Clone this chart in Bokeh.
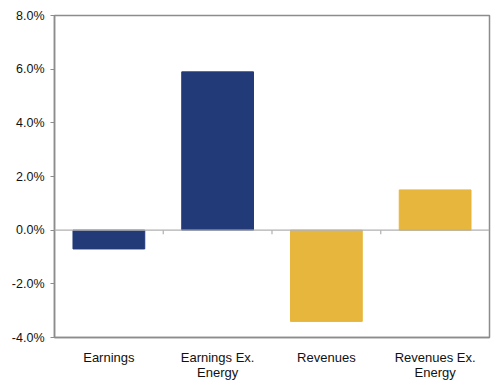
from bokeh.plotting import figure
from bokeh.models import Range1d, FixedTicker, NumeralTickFormatter, Span, ColumnDataSource
from bokeh.embed import file_html
from bokeh.resources import INLINE

categories = ["Earnings", "Earnings Ex.\nEnergy", "Revenues", "Revenues Ex.\nEnergy"]
values = [-0.007, 0.059, -0.034, 0.015]
colors = ["#233a78", "#233a78", "#e6b63d", "#e6b63d"]
y_ticks = [-0.04, -0.02, 0.0, 0.02, 0.04, 0.06, 0.08]

n = len(categories)
xs = [i + 0.5 for i in range(n)]
src = ColumnDataSource(dict(x=xs, top=values, color=colors))

p = figure(frame_width=435, frame_height=322, output_backend="svg", toolbar_location=None,
           x_range=Range1d(0, n), y_range=Range1d(-0.04, 0.08))
p.min_border_left = 54
p.min_border_top = 15
p.min_border_right = 3
p.min_border_bottom = 41
p.vbar(x="x", top="top", bottom=0, width=0.66, color="color", source=src)

# zero line with category separator ticks
p.add_layout(Span(location=0, dimension="width", line_color="#b0b0b0", line_width=1.2))
bounds = list(range(1, n))
p.segment(x0=bounds, x1=bounds, y0=[0] * len(bounds), y1=[-0.0015] * len(bounds),
          line_color="#b0b0b0", line_width=1.2)

p.xgrid.visible = False
p.ygrid.visible = False
p.outline_line_color = "#8c8c8c"
p.outline_line_width = 1.5

font = "Liberation Sans"
xa = p.xaxis[0]
xa.ticker = FixedTicker(ticks=xs)
xa.major_label_overrides = {x: c for x, c in zip(xs, categories)}
xa.major_tick_line_color = None
xa.minor_tick_line_color = None
xa.axis_line_color = "#8c8c8c"
xa.axis_line_width = 1.5
xa.major_label_text_font = font
xa.major_label_text_font_size = "13px"
xa.major_label_text_color = "#111111"
xa.major_label_standoff = 6
xa.major_label_text_line_height = 1.0

ya = p.yaxis[0]
ya.ticker = FixedTicker(ticks=y_ticks)
ya.formatter = NumeralTickFormatter(format="0.0%")
ya.minor_tick_line_color = None
ya.major_tick_in = 0
ya.major_tick_out = 4
ya.major_tick_line_color = "#8c8c8c"
ya.axis_line_color = "#8c8c8c"
ya.axis_line_width = 1.5
ya.major_label_text_font = font
ya.major_label_text_font_size = "12.5px"
ya.major_label_text_color = "#111111"
ya.major_label_standoff = 6

open("out.html", "w").write(file_html(p, INLINE))
